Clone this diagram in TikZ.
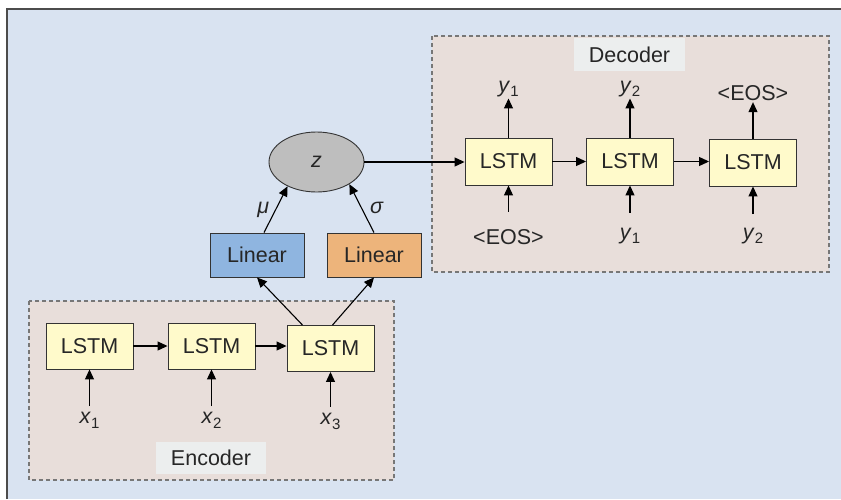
\documentclass[tikz,border=0pt]{standalone}
\usepackage{fontspec}
\setmainfont{Liberation Sans}
\usetikzlibrary{arrows.meta,shapes.geometric}

\definecolor{panelblue}{HTML}{D9E3F1}
\definecolor{groupfill}{HTML}{E8DEDA}
\definecolor{labelgray}{HTML}{ECEEEE}
\definecolor{lstmyellow}{HTML}{FFFACB}
\definecolor{linblue}{HTML}{8FB5E0}
\definecolor{linorange}{HTML}{EDB47B}
\definecolor{zgray}{HTML}{BEBEBE}
\definecolor{boxline}{HTML}{333333}
\definecolor{dashgray}{HTML}{777777}

\newcommand{\diagfont}{\fontsize{21.5}{25}\selectfont}
\newcommand{\lowidx}[1]{\raisebox{-4.5pt}{\fontsize{15}{17}\selectfont #1}}

\tikzset{%
  lstm/.style={
    draw=boxline, fill=lstmyellow, line width=0.9pt,
    minimum width=87pt, minimum height=46pt, inner sep=0pt
  },
  linear/.style={
    draw=boxline, line width=0.9pt,
    minimum width=94pt, minimum height=44pt, inner sep=0pt
  },
  group/.style={
    draw=dashgray, fill=groupfill, line width=1.1pt,
    dash pattern=on 4pt off 3pt
  },
  grouplabel/.style={fill=labelgray, inner sep=0pt},
}

\begin{document}
\begin{tikzpicture}[x=1pt, y=-1pt, line width=1.1pt,
  >={Triangle[length=10pt,width=9pt]},
  every node/.append style={font=\diagfont, text=black!85}]
  \useasboundingbox (0,0) rectangle (841,499);
  % panel
  \fill[panelblue] (7,9) rectangle (841,499);
  \draw[black!70, line width=1.6pt] (7,499) -- (7,9) -- (841,9);

  % encoder and decoder groups
  \draw[group] (29,301) rectangle (394,480);
  \draw[group] (432,36) rectangle (829,272);
  \node [grouplabel, minimum width=110pt, minimum height=32pt] (enc-label) at (211,458) {Encoder};
  \node [grouplabel, minimum width=111pt, minimum height=33pt] (dec-label) at (629.5,54.5) {Decoder};

  % draw encoder cells
  \foreach \x/\y [count=\i] in {89.5/346, 211.5/346, 330.5/348.5}
  {
    \node [lstm] (enc-\i) at (\x,\y) {LSTM};
  }
  % draw decoder cells
  \foreach \x/\y [count=\i] in {508.5/161.5, 630/161.5, 753/162.5}
  {
    \node [lstm, minimum height=47pt] (dec-\i) at (\x,\y) {LSTM};
  }

  % linear layers and latent z
  \node [linear, fill=linblue] (lin-mu) at (257,255) {Linear};
  \node [linear, fill=linorange] (lin-sigma) at (374,255) {Linear};
  \node [ellipse, draw=boxline, fill=zgray, line width=0.9pt,
    minimum width=95pt, minimum height=60pt, inner sep=0pt] (z) at (316.5,162) {\textit{z}};

  % encoder inputs
  \foreach \x/\y [count=\i] in {89.5/420.5, 211.5/420.5, 330.5/421.5}
  {
    \node [inner xsep=0pt, inner ysep=6pt] (x-\i) at (\x,\y) {\textit{x}\lowidx{\i}};
    \draw [->] (x-\i.north) -- (enc-\i.south);
  }

  % decoder inputs
  \node [inner xsep=0pt, inner ysep=17pt] (din-1) at (508.5,237) {<EOS>};
  \node [inner xsep=0pt, inner ysep=15pt] (din-2) at (630,236) {\textit{y}\lowidx{1}};
  \node [inner xsep=0pt, inner ysep=13.5pt] (din-3) at (753,236) {\textit{y}\lowidx{2}};
  \foreach \i in {1,2,3}
  \draw [->] (din-\i.north) -- (dec-\i.south);

  % decoder outputs
  \node [inner sep=1pt] (dout-1) at (508.5,89) {\textit{y}\lowidx{1}};
  \node [inner sep=1pt] (dout-2) at (630,89) {\textit{y}\lowidx{2}};
  \node [inner sep=1pt] (dout-3) at (753,93) {<EOS>};
  \foreach \i in {1,2,3}
  \draw [->] (dec-\i.north) -- (dout-\i.south);

  % recurrent links
  \draw [->] (enc-1.east) -- (enc-2.west);
  \draw [->] (enc-2.east) -- (enc-2.east -| enc-3.west);
  \draw [->] (z.east) -- (z.east -| dec-1.west);
  \draw [->] (dec-1.east) -- (dec-2.west);
  \draw [->] (dec-2.east) -- (dec-2.east -| dec-3.west);

  % encoder to linear layers to z
  \draw [->] ([xshift=-28pt]enc-3.north) -- (lin-mu.south);
  \draw [->] ([xshift=2pt]enc-3.north) -- (lin-sigma.south);
  \draw [->] ([xshift=7pt]lin-mu.north) -- (z.-140)
  node [midway, left=6pt, inner sep=0pt] {\textit{μ}};
  \draw [->] (lin-sigma.north) -- (z.-34)
  node [midway, right=8pt, inner sep=0pt] {\textit{σ}};

\end{tikzpicture}
\end{document}
